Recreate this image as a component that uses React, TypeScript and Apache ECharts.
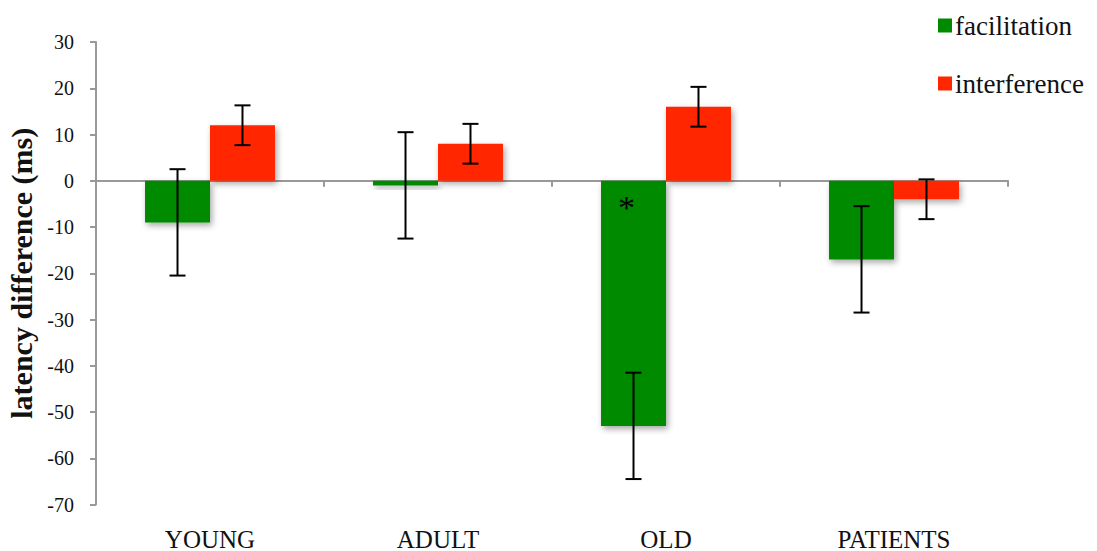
import React, { useEffect, useRef } from "react";
import * as echarts from "echarts";

const categories = ["YOUNG", "ADULT", "OLD", "PATIENTS"];
const seriesNames = ["facilitation", "interference"];
const facilitation = [-9, -1, -53, -17];
const facilitationErr = [11.5, 11.5, 11.5, 11.5];
const interference = [12, 8, 16, -4];
const interferenceErr = [4.3, 4.3, 4.3, 4.3];
const colors = ["#008A00", "#FF2600"];
const annotations = [{ category: 2, series: 0, value: -5.3, text: "*" }];

const FONT = "'Liberation Serif', 'DejaVu Serif', serif";

export default function App() {
  const ref = useRef<HTMLDivElement>(null);
  useEffect(() => {
    if (!ref.current) return;
    const chart = echarts.init(ref.current, null, { renderer: "svg" });
    const barFrac = 0.285;
    const errData: any[] = [];
    [facilitation, interference].forEach((vals, s) => {
      const errs = s === 0 ? facilitationErr : interferenceErr;
      vals.forEach((v, i) => errData.push([i, v - errs[i], v + errs[i], s]));
    });
    const annData = annotations.map((a) => [a.category, a.value, a.series, a.text]);
    const barStyle = (c: string) => ({
      color: c,
      shadowBlur: 6,
      shadowColor: "rgba(0,0,0,0.35)",
      shadowOffsetX: 2,
      shadowOffsetY: 3,
    });
    chart.setOption({
      animation: false,
      textStyle: { fontFamily: FONT },
      grid: { left: 96, right: 89, top: 42, bottom: 46.5, containLabel: false, outerBoundsMode: "none" },
      legend: {
        orient: "vertical",
        left: 933,
        top: 7,
        itemWidth: 14,
        itemHeight: 14,
        itemGap: 31,
        icon: "rect",
        textStyle: { fontFamily: FONT, fontSize: 27, color: "#111", padding: [6, 0, 0, -2] },
        data: seriesNames,
      },
      xAxis: [
        {
          type: "category",
          data: categories,
          position: "bottom",
          axisLine: { onZero: true, lineStyle: { color: "#999", width: 2 } },
          axisTick: { show: true, length: 6, lineStyle: { color: "#999", width: 2 } },
          axisLabel: { show: false },
        },
        {
          type: "category",
          data: categories,
          position: "bottom",
          axisLine: { show: false, onZero: false },
          axisTick: { show: false },
          axisLabel: { margin: 22, fontSize: 25, color: "#111", fontFamily: FONT },
        },
      ],
      yAxis: {
        type: "value",
        min: -70,
        max: 30,
        interval: 10,
        splitLine: { show: false },
        axisLine: { show: true, lineStyle: { color: "#999", width: 2 } },
        axisTick: { show: true, length: 6, lineStyle: { color: "#999", width: 2 } },
        axisLabel: { margin: 22, fontSize: 20, color: "#111", fontFamily: FONT },
        name: "latency difference (ms)",
        nameLocation: "middle",
        nameRotate: 90,
        nameGap: 57,
        nameTextStyle: { fontSize: 30, fontWeight: "bold", color: "#111", fontFamily: FONT },
      },
      series: [
        {
          name: seriesNames[0],
          type: "bar",
          data: facilitation,
          barWidth: "28.5%",
          barGap: "0%",
          itemStyle: barStyle(colors[0]),
        },
        {
          name: seriesNames[1],
          type: "bar",
          data: interference,
          barWidth: "28.5%",
          barGap: "0%",
          itemStyle: barStyle(colors[1]),
        },
        {
          type: "custom",
          name: "err",
          data: errData,
          z: 10,
          renderItem: (params: any, api: any) => {
            const cat = api.value(0);
            const lo = api.coord([cat, api.value(1)]);
            const hi = api.coord([cat, api.value(2)]);
            const band = api.size([1, 0])[0];
            const s = api.value(3);
            const x = lo[0] + (s === 0 ? -1 : 1) * band * barFrac * 0.5;
            const cap = 8;
            const style = { stroke: "#000", lineWidth: 2 };
            return {
              type: "group",
              children: [
                { type: "line", shape: { x1: x, y1: lo[1], x2: x, y2: hi[1] }, style },
                { type: "line", shape: { x1: x - cap, y1: lo[1], x2: x + cap, y2: lo[1] }, style },
                { type: "line", shape: { x1: x - cap, y1: hi[1], x2: x + cap, y2: hi[1] }, style },
              ],
            };
          },
        },
        {
          type: "custom",
          name: "ann",
          data: annData,
          z: 11,
          renderItem: (params: any, api: any) => {
            const cat = api.value(0);
            const p = api.coord([cat, api.value(1)]);
            const band = api.size([1, 0])[0];
            const s = api.value(2);
            const x = p[0] + (s === 0 ? -1 : 1) * band * barFrac * 0.5 - 7;
            return {
              type: "text",
              style: {
                text: annData[params.dataIndex][3],
                x,
                y: p[1] + 2,
                align: "center",
                verticalAlign: "middle",
                fontSize: 34,
                fontFamily: FONT,
                fill: "#000",
              },
            };
          },
        },
      ],
    });
    return () => chart.dispose();
  }, []);
  return <div ref={ref} style={{ width: 1097, height: 551, position: "absolute", left: 0, top: 0 }} />;
}
